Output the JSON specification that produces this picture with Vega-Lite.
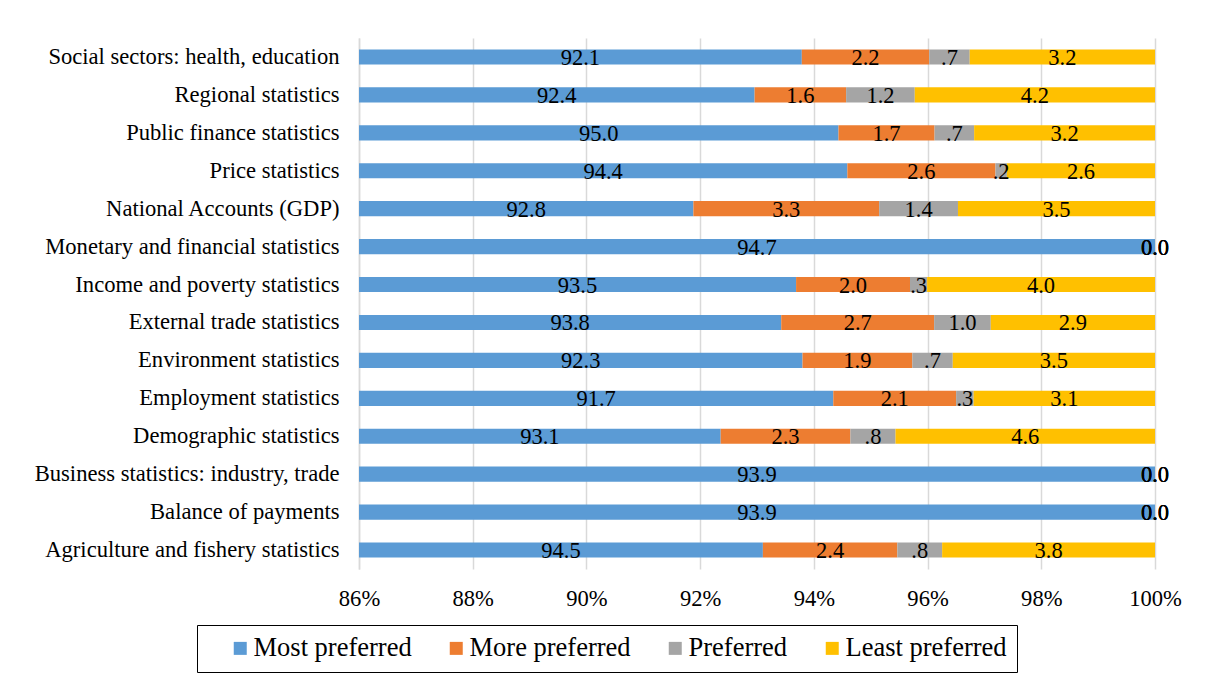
{
  "$schema": "https://vega.github.io/schema/vega-lite/v6.json",
  "width": 796,
  "height": 531,
  "autosize": {"type": "none"},
  "padding": {"left": 359, "top": 38, "right": 51, "bottom": 110},
  "background": "white",
  "config": {
    "view": {"stroke": null},
    "font": "Liberation Serif",
    "axis": {"labelFont": "Liberation Serif", "labelColor": "#000000"},
    "legend": {"labelFont": "Liberation Serif", "titleFont": "Liberation Serif"}
  },
  "data": {
    "values": [
      {"category": "Social sectors: health, education", "pref": "Most preferred", "order": 1, "value": 92.1},
      {"category": "Social sectors: health, education", "pref": "More preferred", "order": 2, "value": 2.2},
      {"category": "Social sectors: health, education", "pref": "Preferred", "order": 3, "value": 0.7},
      {"category": "Social sectors: health, education", "pref": "Least preferred", "order": 4, "value": 3.2},
      {"category": "Regional statistics", "pref": "Most preferred", "order": 1, "value": 92.4},
      {"category": "Regional statistics", "pref": "More preferred", "order": 2, "value": 1.6},
      {"category": "Regional statistics", "pref": "Preferred", "order": 3, "value": 1.2},
      {"category": "Regional statistics", "pref": "Least preferred", "order": 4, "value": 4.2},
      {"category": "Public finance statistics", "pref": "Most preferred", "order": 1, "value": 95.0},
      {"category": "Public finance statistics", "pref": "More preferred", "order": 2, "value": 1.7},
      {"category": "Public finance statistics", "pref": "Preferred", "order": 3, "value": 0.7},
      {"category": "Public finance statistics", "pref": "Least preferred", "order": 4, "value": 3.2},
      {"category": "Price statistics", "pref": "Most preferred", "order": 1, "value": 94.4},
      {"category": "Price statistics", "pref": "More preferred", "order": 2, "value": 2.6},
      {"category": "Price statistics", "pref": "Preferred", "order": 3, "value": 0.2},
      {"category": "Price statistics", "pref": "Least preferred", "order": 4, "value": 2.6},
      {"category": "National Accounts (GDP)", "pref": "Most preferred", "order": 1, "value": 92.8},
      {"category": "National Accounts (GDP)", "pref": "More preferred", "order": 2, "value": 3.3},
      {"category": "National Accounts (GDP)", "pref": "Preferred", "order": 3, "value": 1.4},
      {"category": "National Accounts (GDP)", "pref": "Least preferred", "order": 4, "value": 3.5},
      {"category": "Monetary and financial statistics", "pref": "Most preferred", "order": 1, "value": 94.7},
      {"category": "Monetary and financial statistics", "pref": "More preferred", "order": 2, "value": 0},
      {"category": "Monetary and financial statistics", "pref": "Preferred", "order": 3, "value": 0},
      {"category": "Monetary and financial statistics", "pref": "Least preferred", "order": 4, "value": 0},
      {"category": "Income and poverty statistics", "pref": "Most preferred", "order": 1, "value": 93.5},
      {"category": "Income and poverty statistics", "pref": "More preferred", "order": 2, "value": 2.0},
      {"category": "Income and poverty statistics", "pref": "Preferred", "order": 3, "value": 0.3},
      {"category": "Income and poverty statistics", "pref": "Least preferred", "order": 4, "value": 4.0},
      {"category": "External trade statistics", "pref": "Most preferred", "order": 1, "value": 93.8},
      {"category": "External trade statistics", "pref": "More preferred", "order": 2, "value": 2.7},
      {"category": "External trade statistics", "pref": "Preferred", "order": 3, "value": 1.0},
      {"category": "External trade statistics", "pref": "Least preferred", "order": 4, "value": 2.9},
      {"category": "Environment statistics", "pref": "Most preferred", "order": 1, "value": 92.3},
      {"category": "Environment statistics", "pref": "More preferred", "order": 2, "value": 1.9},
      {"category": "Environment statistics", "pref": "Preferred", "order": 3, "value": 0.7},
      {"category": "Environment statistics", "pref": "Least preferred", "order": 4, "value": 3.5},
      {"category": "Employment statistics", "pref": "Most preferred", "order": 1, "value": 91.7},
      {"category": "Employment statistics", "pref": "More preferred", "order": 2, "value": 2.1},
      {"category": "Employment statistics", "pref": "Preferred", "order": 3, "value": 0.3},
      {"category": "Employment statistics", "pref": "Least preferred", "order": 4, "value": 3.1},
      {"category": "Demographic statistics", "pref": "Most preferred", "order": 1, "value": 93.1},
      {"category": "Demographic statistics", "pref": "More preferred", "order": 2, "value": 2.3},
      {"category": "Demographic statistics", "pref": "Preferred", "order": 3, "value": 0.8},
      {"category": "Demographic statistics", "pref": "Least preferred", "order": 4, "value": 4.6},
      {"category": "Business statistics: industry, trade", "pref": "Most preferred", "order": 1, "value": 93.9},
      {"category": "Business statistics: industry, trade", "pref": "More preferred", "order": 2, "value": 0},
      {"category": "Business statistics: industry, trade", "pref": "Preferred", "order": 3, "value": 0},
      {"category": "Business statistics: industry, trade", "pref": "Least preferred", "order": 4, "value": 0},
      {"category": "Balance of payments", "pref": "Most preferred", "order": 1, "value": 93.9},
      {"category": "Balance of payments", "pref": "More preferred", "order": 2, "value": 0},
      {"category": "Balance of payments", "pref": "Preferred", "order": 3, "value": 0},
      {"category": "Balance of payments", "pref": "Least preferred", "order": 4, "value": 0},
      {"category": "Agriculture and fishery statistics", "pref": "Most preferred", "order": 1, "value": 94.5},
      {"category": "Agriculture and fishery statistics", "pref": "More preferred", "order": 2, "value": 2.4},
      {"category": "Agriculture and fishery statistics", "pref": "Preferred", "order": 3, "value": 0.8},
      {"category": "Agriculture and fishery statistics", "pref": "Least preferred", "order": 4, "value": 3.8}
    ]
  },
  "transform": [
    {"stack": "value", "groupby": ["category"], "sort": [{"field": "order", "order": "ascending"}], "offset": "normalize", "as": ["x0", "x1"]},
    {"calculate": "(max(datum.x0, 0.86) + datum.x1) / 2", "as": "mid"},
    {"calculate": "datum.value > 0 && datum.value < 1 ? replace(format(datum.value, '.1f'), '0.', '.') : format(datum.value, '.1f')", "as": "lbl"}
  ],
  "encoding": {
    "y": {
      "field": "category",
      "type": "nominal",
      "sort": [
        "Social sectors: health, education",
        "Regional statistics",
        "Public finance statistics",
        "Price statistics",
        "National Accounts (GDP)",
        "Monetary and financial statistics",
        "Income and poverty statistics",
        "External trade statistics",
        "Environment statistics",
        "Employment statistics",
        "Demographic statistics",
        "Business statistics: industry, trade",
        "Balance of payments",
        "Agriculture and fishery statistics"
      ],
      "scale": {"paddingInner": 0.6, "paddingOuter": 0.3},
      "axis": {
        "title": null,
        "labelFontSize": 22.6,
        "labelPadding": 20,
        "ticks": false,
        "tickSize": 0,
        "domain": true,
        "domainColor": "#D9D9D9",
        "domainWidth": 1.5,
        "labelLimit": 400
      }
    }
  },
  "layer": [
    {
      "mark": {"type": "bar", "clip": true},
      "encoding": {
        "x": {
          "field": "x0",
          "type": "quantitative",
          "scale": {"domain": [0.86, 1.0], "clamp": true, "nice": false, "zero": false},
          "axis": {
            "title": null,
            "format": ".0%",
            "values": [0.86, 0.88, 0.9, 0.92, 0.94, 0.96, 0.98, 1.0],
            "labelFontSize": 22.6,
            "labelPadding": 18,
            "labelFlush": false,
            "ticks": false,
            "tickSize": 0,
            "domain": false,
            "grid": true,
            "gridColor": "#D9D9D9",
            "gridWidth": 1.5
          }
        },
        "x2": {"field": "x1"},
        "color": {
          "field": "pref",
          "type": "nominal",
          "scale": {
            "domain": ["Most preferred", "More preferred", "Preferred", "Least preferred"],
            "range": ["#5B9BD5", "#ED7D31", "#A5A5A5", "#FFC000"]
          },
          "legend": {
            "title": " ",
            "titleOrient": "left",
            "titleFontSize": 26,
            "titlePadding": 20,
            "orient": "none",
            "legendX": -162,
            "legendY": 587,
            "direction": "horizontal",
            "strokeColor": "#000000",
            "padding": 10,
            "symbolType": "square",
            "symbolSize": 169,
            "symbolStrokeWidth": 0,
            "labelFontSize": 26.5,
            "labelColor": "#000000",
            "labelOffset": 0,
            "labelLimit": 400,
            "columnPadding": 31,
            "labelExpr": "datum.label == 'Least preferred' ? 'Least preferred\u2003' : datum.label"
          }
        }
      }
    },
    {
      "mark": {"type": "text", "fontSize": 22.5, "color": "#000000", "baseline": "middle", "align": "center", "dy": 1},
      "encoding": {
        "x": {"field": "mid", "type": "quantitative"},
        "text": {"field": "lbl"}
      }
    }
  ]
}
